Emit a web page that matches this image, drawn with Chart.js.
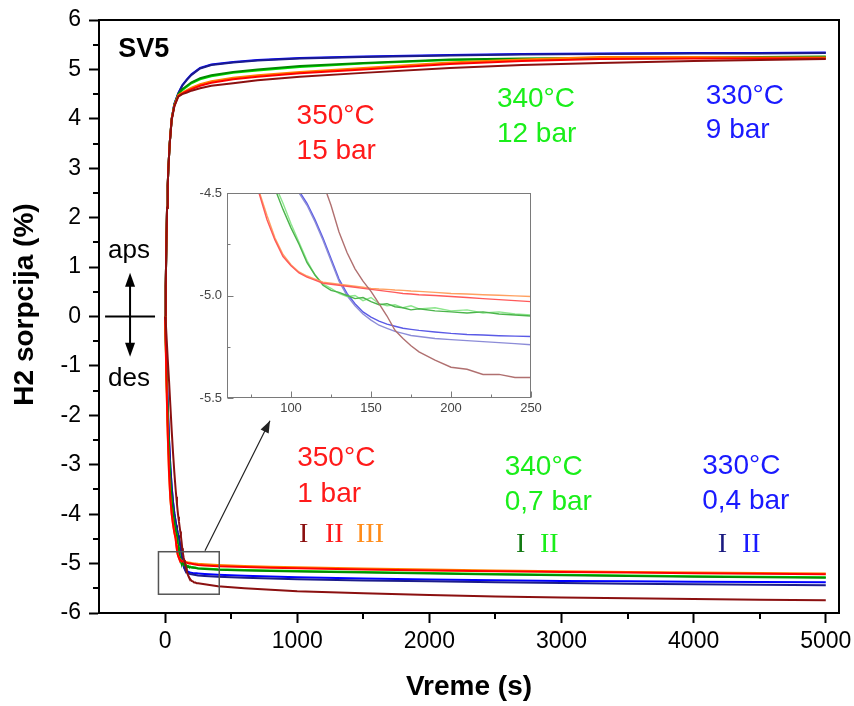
<!DOCTYPE html>
<html><head><meta charset="utf-8">
<script src="https://cdn.jsdelivr.net/npm/chart.js@4.4.1/dist/chart.umd.min.js"></script>
<style>
html,body{margin:0;padding:0;background:#fff;}
#wrap{position:relative;width:854px;height:706px;overflow:hidden;}
#main{position:absolute;left:0;top:0;}
#inset{position:absolute;left:180px;top:180px;}
</style></head><body>
<div id="wrap"><canvas id="main" width="854" height="706"></canvas><canvas id="inset" width="370" height="250"></canvas></div>
<script>
// ---------- DATA ----------
// absorption (aps) time points, s
const absT = [0,5,10,15,20,25,35,50,70,100,130,165,200,265,350,515,700,1020,1500,2155,2700,3290,4000,4500,5000];
const absMaroon = [0,0.6,1.5,2.2,2.65,3.0,3.48,3.97,4.25,4.45,4.5,4.53,4.57,4.62,4.67,4.72,4.78,4.85,4.93,5.03,5.09,5.13,5.17,5.19,5.21];
const absRed    = [0,0.6,1.5,2.2,2.65,3.0,3.5,4.0,4.26,4.46,4.51,4.56,4.6,4.67,4.73,4.8,4.85,4.92,5.0,5.11,5.17,5.21,5.22,5.22,5.22];
const absOrange = [0,0.6,1.5,2.2,2.65,3.0,3.5,4.0,4.27,4.48,4.53,4.58,4.63,4.7,4.76,4.83,4.88,4.95,5.03,5.14,5.2,5.25,5.25,5.24,5.24];
const absDkGreen= [0,0.6,1.5,2.2,2.65,3.0,3.5,4.0,4.28,4.5,4.6,4.67,4.74,4.82,4.88,4.95,5.0,5.07,5.13,5.2,5.22,5.23,5.24,5.25,5.26];
const absGreen  = [0,0.6,1.5,2.2,2.65,3.0,3.5,4.0,4.28,4.49,4.58,4.65,4.72,4.8,4.86,4.93,4.98,5.05,5.12,5.19,5.21,5.22,5.23,5.24,5.25];
const absNavy   = [0,0.6,1.5,2.2,2.65,3.0,3.5,4.0,4.3,4.51,4.67,4.79,4.89,5.02,5.09,5.14,5.18,5.22,5.25,5.28,5.3,5.31,5.32,5.32,5.33];
const absBlue   = [0,0.6,1.5,2.2,2.65,3.0,3.5,4.0,4.3,4.52,4.68,4.8,4.9,5.03,5.1,5.15,5.19,5.23,5.26,5.29,5.31,5.32,5.33,5.33,5.34];

// desorption (des) time points, s
const desT = [0,5,10,20,30,40,50,60,70,80,85,90,95,100,105,110,115,120,125,130,135,140,145,150,155,160,165,170,175,180,190,200,210,220,230,240,250,300,400,600,800,1000,1500,2000,2500,3000,3500,4000,4500,5000];
const desMaroon = [0,-0.1,-0.35,-0.85,-1.3,-1.8,-2.3,-2.75,-3.15,-3.5,
 -3.65,-3.8,-3.93,-4.05,-4.15,-4.25,-4.35,-4.45,-4.56,-4.69,
 -4.79,-4.87,-4.93,-4.98,-5.04,-5.1,-5.17,-5.21,-5.245,-5.275,
 -5.315,-5.35,-5.36,-5.385,-5.385,-5.4,-5.4,
 -5.42,-5.46,-5.5,-5.53,-5.56,-5.6,-5.635,-5.665,-5.685,-5.7,-5.715,-5.73,-5.74];
const desRed = [0,-0.55,-1.25,-2.35,-3.15,-3.68,-3.99,-4.2,-4.37,-4.5,
 -4.63,-4.73,-4.81,-4.855,-4.89,-4.91,-4.925,-4.94,-4.945,-4.95,
 -4.955,-4.96,-4.965,-4.97,-4.975,-4.98,-4.985,-4.99,-4.993,-4.996,
 -5.0,-5.005,-5.01,-5.015,-5.02,-5.025,-5.03,
 -5.04,-5.055,-5.07,-5.085,-5.095,-5.12,-5.14,-5.155,-5.17,-5.18,-5.195,-5.205,-5.215];
const desOrange = [0,-0.6,-1.3,-2.4,-3.2,-3.7,-4.0,-4.2,-4.36,-4.49,
 -4.61,-4.72,-4.8,-4.85,-4.885,-4.905,-4.92,-4.935,-4.94,-4.945,
 -4.95,-4.955,-4.96,-4.965,-4.968,-4.97,-4.973,-4.975,-4.978,-4.98,
 -4.985,-4.99,-4.993,-4.996,-4.999,-5.002,-5.005,
 -5.015,-5.03,-5.05,-5.065,-5.075,-5.1,-5.12,-5.14,-5.155,-5.17,-5.18,-5.19,-5.2];
const desDkGreen = [0,-0.5,-1.1,-2.1,-2.85,-3.4,-3.75,-4.0,-4.19,-4.34,
 -4.41,-4.48,-4.58,-4.67,-4.75,-4.84,-4.9,-4.95,-4.975,-4.985,
 -5.0,-5.015,-5.01,-5.03,-5.045,-5.04,-5.055,-5.06,-5.07,-5.065,
 -5.075,-5.08,-5.085,-5.08,-5.09,-5.095,-5.1,
 -5.11,-5.125,-5.14,-5.15,-5.16,-5.18,-5.2,-5.22,-5.235,-5.25,-5.265,-5.275,-5.285];
const desGreen = [0,-0.5,-1.1,-2.1,-2.85,-3.4,-3.75,-4.0,-4.18,-4.32,
 -4.39,-4.46,-4.55,-4.65,-4.74,-4.83,-4.9,-4.945,-4.965,-4.99,
 -5.005,-5.0,-5.025,-5.01,-5.04,-5.05,-5.045,-5.06,-5.05,-5.065,
 -5.06,-5.075,-5.07,-5.085,-5.08,-5.09,-5.095,
 -5.1,-5.115,-5.13,-5.14,-5.15,-5.17,-5.19,-5.21,-5.225,-5.24,-5.255,-5.265,-5.275];
const desNavy = [0,-0.4,-0.9,-1.8,-2.5,-3.05,-3.45,-3.75,-3.98,-4.15,
 -4.23,-4.3,-4.37,-4.43,-4.5,-4.56,-4.64,-4.73,-4.83,-4.93,
 -5.0,-5.05,-5.09,-5.12,-5.145,-5.16,-5.175,-5.185,-5.195,-5.2,
 -5.21,-5.215,-5.22,-5.225,-5.23,-5.235,-5.24,
 -5.25,-5.265,-5.285,-5.3,-5.315,-5.34,-5.36,-5.38,-5.395,-5.41,-5.42,-5.43,-5.44];
const desBlue = [0,-0.4,-0.9,-1.8,-2.5,-3.05,-3.45,-3.75,-3.98,-4.15,
 -4.23,-4.3,-4.37,-4.43,-4.49,-4.55,-4.63,-4.72,-4.82,-4.92,
 -4.99,-5.04,-5.08,-5.105,-5.125,-5.14,-5.15,-5.16,-5.165,-5.17,
 -5.178,-5.185,-5.19,-5.193,-5.196,-5.198,-5.2,
 -5.21,-5.225,-5.245,-5.26,-5.275,-5.3,-5.32,-5.335,-5.35,-5.36,-5.37,-5.375,-5.38];

// tick values
const xMajor = [0,1000,2000,3000,4000,5000];
const xMinor = [500,1500,2500,3500,4500];
const yMajor = [-6,-5,-4,-3,-2,-1,0,1,2,3,4,5,6];
const yMinor = [-5.5,-4.5,-3.5,-2.5,-1.5,-0.5,0.5,1.5,2.5,3.5,4.5,5.5];
const insetXMajor = [100,150,200,250];
const insetXMinor = [75,125,175,225];
const insetYMajor = [-5.5,-5.0,-4.5];
const insetYMinor = [-4.75,-5.25];

// ---------- STYLE ----------
const FONT = "'Liberation Sans', Arial, Helvetica, sans-serif";
const SERIF = "'Liberation Serif', 'Times New Roman', serif";
const C = {maroon:'#8b1010', red:'#ff0000', orange:'#ff8000', dkgreen:'#008c00', green:'#00e000', navy:'#1c1c8c', blue:'#0000ff'};
const CI = {maroon:'#b07070', red:'#ff5a5a', orange:'#ffa060', dkgreen:'#4cb44c', green:'#8ce68c', navy:'#8c8cd8', blue:'#5a5ae6'};

const series = [
  {key:'maroon', abs:absMaroon, des:desMaroon},
  {key:'red', abs:absRed, des:desRed},
  {key:'orange', abs:absOrange, des:desOrange},
  {key:'dkgreen', abs:absDkGreen, des:desDkGreen},
  {key:'green', abs:absGreen, des:desGreen},
  {key:'navy', abs:absNavy, des:desNavy},
  {key:'blue', abs:absBlue, des:desBlue}
];
const pts = (ts, vs) => ts.map((t,i)=>({x:t, y:vs[i]}));

function makeDatasets(colors, width, withAbs){
  const ds = [];
  series.forEach(s => {
    ds.push({data:pts(desT, s.des), borderColor:colors[s.key], borderWidth:width, pointRadius:0, tension:0, fill:false});
  });
  if (withAbs) series.forEach(s => {
    ds.push({data:pts(absT, s.abs), borderColor:colors[s.key], borderWidth:width, pointRadius:0, tension:0, fill:false});
  });
  return ds;
}
const setTicks = (vals) => (s) => { s.ticks = vals.map(v => ({value:v})); };

// annotations (positions in data units)
const notes = [
  {text:'SV5', t:-355, v:5.40, color:'#000', font:`bold 27px ${FONT}`},
  {text:'350°C', t:995, v:4.06, color:'#ff1a1a', font:`28px ${FONT}`},
  {text:'15 bar', t:995, v:3.35, color:'#ff1a1a', font:`28px ${FONT}`},
  {text:'340°C', t:2511, v:4.39, color:'#1aee1a', font:`28px ${FONT}`},
  {text:'12 bar', t:2511, v:3.68, color:'#1aee1a', font:`28px ${FONT}`},
  {text:'330°C', t:4092, v:4.45, color:'#1a1aff', font:`28px ${FONT}`},
  {text:'9 bar', t:4092, v:3.76, color:'#1a1aff', font:`28px ${FONT}`},
  {text:'350°C', t:1000, v:-2.86, color:'#ff1a1a', font:`28px ${FONT}`},
  {text:'1 bar', t:1000, v:-3.59, color:'#ff1a1a', font:`28px ${FONT}`},
  {text:'I', t:1014, v:-4.42, color:C.maroon, font:`28px ${SERIF}`},
  {text:'II', t:1210, v:-4.42, color:'#ff1a1a', font:`28px ${SERIF}`},
  {text:'III', t:1445, v:-4.42, color:'#ff8c1a', font:`28px ${SERIF}`},
  {text:'340°C', t:2570, v:-3.06, color:'#1aee1a', font:`28px ${FONT}`},
  {text:'0,7 bar', t:2570, v:-3.75, color:'#1aee1a', font:`28px ${FONT}`},
  {text:'I', t:2655, v:-4.62, color:'#137a13', font:`28px ${SERIF}`},
  {text:'II', t:2837, v:-4.62, color:'#1aee1a', font:`28px ${SERIF}`},
  {text:'330°C', t:4065, v:-3.04, color:'#1a1aff', font:`28px ${FONT}`},
  {text:'0,4 bar', t:4065, v:-3.73, color:'#1a1aff', font:`28px ${FONT}`},
  {text:'I', t:4183, v:-4.62, color:'#1a1a80', font:`28px ${SERIF}`},
  {text:'II', t:4365, v:-4.62, color:'#1a1aff', font:`28px ${SERIF}`},
  {text:'aps', t:-431, v:1.33, color:'#000', font:`26px ${FONT}`},
  {text:'des', t:-431, v:-1.26, color:'#000', font:`26px ${FONT}`}
];

function arrowHead(ctx, x0, y0, x1, y1, len, half){
  const a = Math.atan2(y1-y0, x1-x0);
  ctx.beginPath();
  ctx.moveTo(x1, y1);
  ctx.lineTo(x1 - len*Math.cos(a) + half*Math.sin(a), y1 - len*Math.sin(a) - half*Math.cos(a));
  ctx.lineTo(x1 - len*Math.cos(a) - half*Math.sin(a), y1 - len*Math.sin(a) + half*Math.cos(a));
  ctx.closePath(); ctx.fill();
}

const mainDecor = {
  id:'mainDecor',
  afterDraw(chart){
    const {ctx, chartArea:a, scales:{x, y}} = chart;
    ctx.save();
    ctx.strokeStyle = '#000'; ctx.lineWidth = 2;
    ctx.strokeRect(a.left, a.top, a.right-a.left, a.bottom-a.top);
    xMinor.forEach(v => { const p = Math.round(x.getPixelForValue(v)); ctx.beginPath(); ctx.moveTo(p, a.bottom); ctx.lineTo(p, a.bottom+6); ctx.stroke(); });
    yMinor.forEach(v => { const p = Math.round(y.getPixelForValue(v)); ctx.beginPath(); ctx.moveTo(a.left, p); ctx.lineTo(a.left-6, p); ctx.stroke(); });
    // y title
    ctx.save();
    ctx.translate(25, (a.top+a.bottom)/2 - 12);
    ctx.rotate(-Math.PI/2);
    ctx.fillStyle = '#000'; ctx.font = `bold 28px ${FONT}`;
    ctx.textAlign = 'center'; ctx.textBaseline = 'middle';
    ctx.fillText('H2 sorpcija (%)', 0, 0);
    ctx.restore();
    // text notes
    ctx.textAlign = 'left'; ctx.textBaseline = 'middle';
    notes.forEach(n => { ctx.font = n.font; ctx.fillStyle = n.color; ctx.fillText(n.text, x.getPixelForValue(n.t), y.getPixelForValue(n.v)); });
    // aps/des cross with arrows
    ctx.strokeStyle = '#000'; ctx.fillStyle = '#000'; ctx.lineWidth = 2;
    const hx0 = x.getPixelForValue(-454), hx1 = x.getPixelForValue(-76), hy = y.getPixelForValue(0);
    ctx.beginPath(); ctx.moveTo(hx0, hy); ctx.lineTo(hx1, hy); ctx.stroke();
    const vx = x.getPixelForValue(-265), vy0 = y.getPixelForValue(0.885), vy1 = y.getPixelForValue(-0.815);
    ctx.beginPath(); ctx.moveTo(vx, vy0+8); ctx.lineTo(vx, vy1-8); ctx.stroke();
    arrowHead(ctx, vx, hy, vx, vy0, 14, 5);
    arrowHead(ctx, vx, hy, vx, vy1, 14, 5);
    // zoom box
    ctx.strokeStyle = '#555'; ctx.lineWidth = 1.5;
    const bx0 = x.getPixelForValue(-50), bx1 = x.getPixelForValue(410), by0 = y.getPixelForValue(-4.76), by1 = y.getPixelForValue(-5.62);
    ctx.strokeRect(bx0, by0, bx1-bx0, by1-by0);
    // arrow to inset
    ctx.strokeStyle = '#222'; ctx.fillStyle = '#222'; ctx.lineWidth = 1.2;
    const ax0 = x.getPixelForValue(302), ay0 = y.getPixelForValue(-4.74), ax1 = x.getPixelForValue(794), ay1 = y.getPixelForValue(-2.11);
    ctx.beginPath(); ctx.moveTo(ax0, ay0); ctx.lineTo(ax1, ay1); ctx.stroke();
    arrowHead(ctx, ax0, ay0, ax1, ay1, 12, 4.5);
    ctx.restore();
  }
};

const insetDecor = {
  id:'insetDecor',
  afterDraw(chart){
    const {ctx, chartArea:a, scales:{x, y}} = chart;
    ctx.save();
    ctx.strokeStyle = '#7a7a7a'; ctx.lineWidth = 1;
    ctx.strokeRect(Math.round(a.left)+0.5, Math.round(a.top)+0.5, Math.round(a.right-a.left)-1, Math.round(a.bottom-a.top)-1);
    const b = Math.round(a.bottom)-0.5, l = Math.round(a.left)+0.5;
    const tx = (v, len) => { const p = Math.round(x.getPixelForValue(v))+0.5; ctx.beginPath(); ctx.moveTo(p, b); ctx.lineTo(p, b-len); ctx.stroke(); };
    const ty = (v, len) => { const p = Math.round(y.getPixelForValue(v))+0.5; ctx.beginPath(); ctx.moveTo(l, p); ctx.lineTo(l+len, p); ctx.stroke(); };
    insetXMajor.forEach(v => tx(v, 6)); insetXMinor.forEach(v => tx(v, 3));
    insetYMajor.forEach(v => ty(v, 6)); insetYMinor.forEach(v => ty(v, 3));
    ctx.restore();
  }
};

// ---------- MAIN CHART ----------
new Chart(document.getElementById('main'), {
  type:'line',
  data:{datasets: makeDatasets(C, 2, true)},
  options:{
    responsive:false, animation:false, devicePixelRatio:1,
    layout:{padding:{left:0, top:20, right:15, bottom:0}},
    plugins:{legend:{display:false}, tooltip:{enabled:false}},
    scales:{
      x:{type:'linear', min:-500, max:5100,
        afterBuildTicks: setTicks(xMajor),
        afterFit:(s)=>{ s.height = 93; s.paddingLeft = 0; s.paddingRight = 0; },
        border:{display:true, color:'#000', width:2},
        grid:{display:true, drawOnChartArea:false, drawTicks:true, tickLength:10, tickWidth:2, tickColor:'#000'},
        ticks:{autoSkip:false, maxRotation:0, padding:5, color:'#000', font:{family:FONT, size:23}, callback:(v)=>String(v)},
        title:{display:true, text:'Vreme (s)', color:'#000', font:{family:FONT, size:28, weight:'bold'}, padding:{top:0, bottom:2}}
      },
      y:{type:'linear', min:-6, max:6,
        afterBuildTicks: setTicks(yMajor),
        afterFit:(s)=>{ s.width = 99; s.paddingTop = 0; s.paddingBottom = 0; },
        border:{display:true, color:'#000', width:2},
        grid:{display:true, drawOnChartArea:false, drawTicks:true, tickLength:10, tickWidth:2, tickColor:'#000'},
        ticks:{autoSkip:false, padding:8, color:'#000', font:{family:FONT, size:23}, callback:(v)=>String(v)}
      }
    }
  },
  plugins:[mainDecor]
});

// ---------- INSET CHART ----------
new Chart(document.getElementById('inset'), {
  type:'line',
  data:{datasets: makeDatasets(CI, 1.4, false)},
  options:{
    responsive:false, animation:false, devicePixelRatio:1,
    layout:{padding:{left:0, top:13, right:19, bottom:0}},
    plugins:{legend:{display:false}, tooltip:{enabled:false}},
    scales:{
      x:{type:'linear', min:60, max:250,
        afterBuildTicks: setTicks(insetXMajor),
        afterFit:(s)=>{ s.height = 32; s.paddingLeft = 0; s.paddingRight = 0; },
        border:{display:false},
        grid:{display:false, drawTicks:false},
        ticks:{autoSkip:false, maxRotation:0, padding:3, color:'#444', font:{family:FONT, size:13}, callback:(v)=>String(v)}
      },
      y:{type:'linear', min:-5.5, max:-4.5,
        afterBuildTicks: setTicks(insetYMajor),
        afterFit:(s)=>{ s.width = 47; s.paddingTop = 0; s.paddingBottom = 0; },
        border:{display:false},
        grid:{display:false, drawTicks:false},
        ticks:{autoSkip:false, padding:5, color:'#444', font:{family:FONT, size:13},
          callback:(v)=>Number(v).toFixed(1)}
      }
    }
  },
  plugins:[insetDecor]
});
</script>
</body></html>
